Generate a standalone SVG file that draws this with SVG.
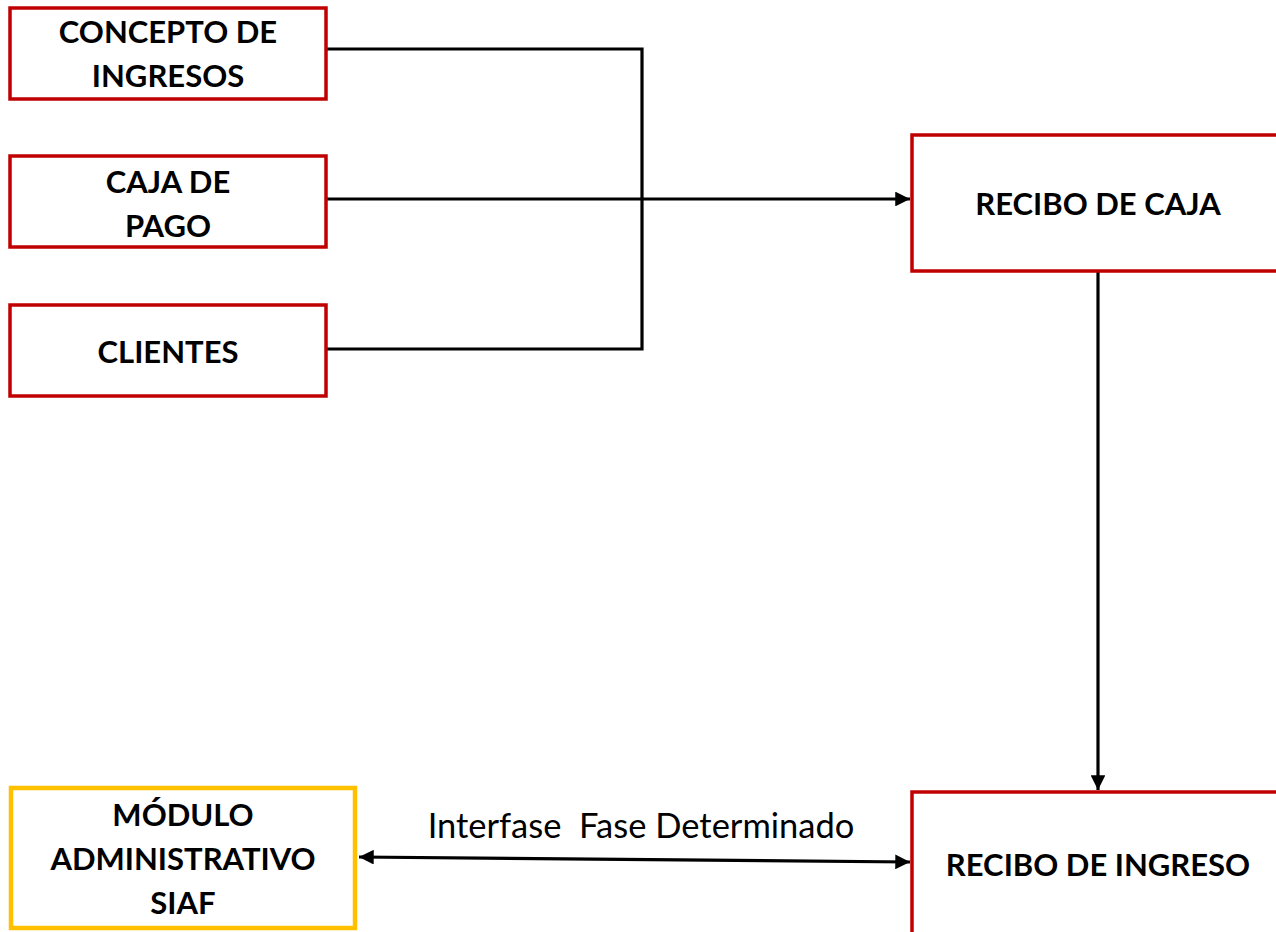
<svg xmlns="http://www.w3.org/2000/svg" width="1276" height="932" viewBox="0 0 1276 932">
<style>
.box{fill:#fff;stroke:#C00000;stroke-width:3.5}
.gold{fill:#fff;stroke:#FFC000;stroke-width:4.5}
.t{font-family:Lato,"Liberation Sans",sans-serif;font-weight:bold;font-size:31px;fill:#000;text-anchor:middle}
.lbl{font-family:Lato,"Liberation Sans",sans-serif;font-size:34.5px;fill:#000;text-anchor:middle;white-space:pre}
.ln{fill:none;stroke:#000;stroke-width:3.2}
</style>
<defs>
<marker id="ah" viewBox="0 0 10 10" refX="10" refY="5" markerWidth="5.2" markerHeight="4.6" markerUnits="strokeWidth" orient="auto-start-reverse">
<path d="M0,0 L10,5 L0,10 Z" fill="#000"/>
</marker>
</defs>
<rect width="1276" height="932" fill="#fff"/>
<g id="connectors">
<path class="ln" d="M326,49 H642 V349 H326"/>
<path class="ln" d="M326,199 H910" marker-end="url(#ah)"/>
<path class="ln" d="M1098,271 V790" marker-end="url(#ah)"/>
<path class="ln" d="M359,857 L910,862" marker-start="url(#ah)" marker-end="url(#ah)"/>
<text class="lbl" x="641" y="838" xml:space="preserve">Interfase  Fase Determinado</text>
</g>
<g id="concepto">
<rect class="box" x="10" y="8" width="316" height="91"/>
<text class="t" x="168" y="43">CONCEPTO DE</text>
<text class="t" x="168" y="87">INGRESOS</text>
</g>
<g id="caja-pago">
<rect class="box" x="10" y="156" width="316" height="91"/>
<text class="t" x="168" y="193">CAJA DE</text>
<text class="t" x="168" y="237">PAGO</text>
</g>
<g id="clientes">
<rect class="box" x="10" y="305" width="316" height="91"/>
<text class="t" x="168" y="363">CLIENTES</text>
</g>
<g id="recibo-caja">
<rect class="box" x="912" y="135" width="380" height="136"/>
<text class="t" x="1098" y="215">RECIBO DE CAJA</text>
</g>
<g id="recibo-ingreso">
<rect class="box" x="912" y="792" width="380" height="160"/>
<text class="t" x="1098" y="876">RECIBO DE INGRESO</text>
</g>
<g id="modulo">
<rect class="gold" x="11" y="788" width="344" height="140"/>
<text class="t" x="183" y="826">MÓDULO</text>
<text class="t" x="183" y="870">ADMINISTRATIVO</text>
<text class="t" x="183" y="914">SIAF</text>
</g>
</svg>
